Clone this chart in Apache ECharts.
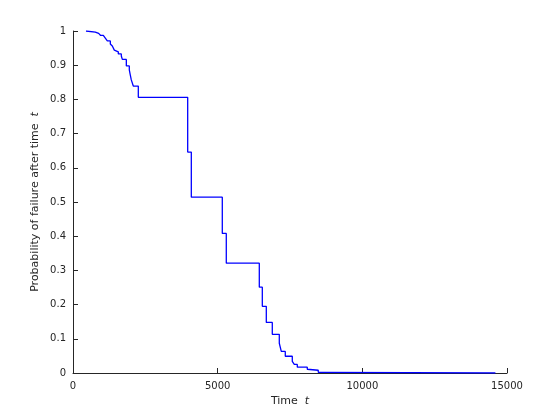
<!DOCTYPE html>
<html>
<head>
<meta charset="utf-8">
<script src="https://cdn.jsdelivr.net/npm/echarts@6/dist/echarts.min.js"></script>
<style>
  html, body { margin: 0; padding: 0; background: #fff; }
  #chart { width: 560px; height: 420px; }
</style>
</head>
<body>
<div id="chart"></div>
<script>
// failure times and survivor probability
var times = [449, 494, 771, 887, 956, 1048, 1083, 1117, 1152, 1186, 1290, 1359, 1394, 1428, 1463,
  1566, 1670, 1705, 1843, 1946, 1981, 2015, 2084, 2257, 3964, 4089, 5160, 5298, 6439, 6543,
  6681, 6888, 7130, 7199, 7337, 7579, 7648, 7752, 8097, 8132, 8477, 8650, 14600];
var survivor = [1.000, 0.997, 0.993, 0.990, 0.987, 0.985, 0.982, 0.979, 0.976, 0.971, 0.962, 0.956, 0.952, 0.944, 0.939,
  0.933, 0.927, 0.917, 0.898, 0.886, 0.871, 0.857, 0.839, 0.806, 0.646, 0.514, 0.408, 0.321, 0.251, 0.195,
  0.148, 0.113, 0.087, 0.063, 0.049, 0.034, 0.025, 0.017, 0.011, 0.008, 0.002, 0, 0];
var xTicks = [0, 5000, 10000, 15000];
var yTicks = [0, 0.1, 0.2, 0.3, 0.4, 0.5, 0.6, 0.7, 0.8, 0.9, 1];

var axisColor = '#262626';
var font = 'DejaVu Sans';

var chart = echarts.init(document.getElementById('chart'));
var option = {
  animation: false,
  grid: { left: 73, right: 53, top: 31, bottom: 47 },
  xAxis: {
    type: 'value',
    min: xTicks[0],
    max: xTicks[xTicks.length - 1],
    interval: 5000,
    name: 'Time  {i|t}',
    nameLocation: 'middle',
    nameGap: 17,
    nameTextStyle: {
      color: axisColor, fontSize: 11, fontFamily: font,
      rich: { i: { fontStyle: 'italic', color: axisColor, fontSize: 11, fontFamily: font } }
    },
    axisLine: { lineStyle: { color: axisColor, width: 1 } },
    axisTick: { inside: true, length: 5, lineStyle: { color: axisColor } },
    axisLabel: {
      color: axisColor, fontSize: 10, fontFamily: font, margin: 8,
      formatter: function (v) { return String(v); }
    },
    splitLine: { show: false }
  },
  yAxis: {
    type: 'value',
    min: yTicks[0],
    max: yTicks[yTicks.length - 1],
    interval: 0.1,
    name: 'Probability of failure after time  {i|t}',
    nameLocation: 'middle',
    nameMoveOverlap: false,
    nameGap: 32,
    nameTextStyle: {
      color: axisColor, fontSize: 11, fontFamily: font,
      rich: { i: { fontStyle: 'italic', color: axisColor, fontSize: 11, fontFamily: font } }
    },
    axisLine: { show: true, lineStyle: { color: axisColor, width: 1 } },
    axisTick: { show: true, inside: true, length: 5, lineStyle: { color: axisColor } },
    axisLabel: { color: axisColor, fontSize: 10, fontFamily: font, margin: 7 },
    splitLine: { show: false }
  },
  series: [{
    type: 'line',
    step: 'end',
    showSymbol: false,
    lineStyle: { color: '#0000ff', width: 1.3 },
    data: times.map(function (t, i) { return [t, survivor[i]]; })
  }]
};
chart.setOption(option);
</script>
</body>
</html>
